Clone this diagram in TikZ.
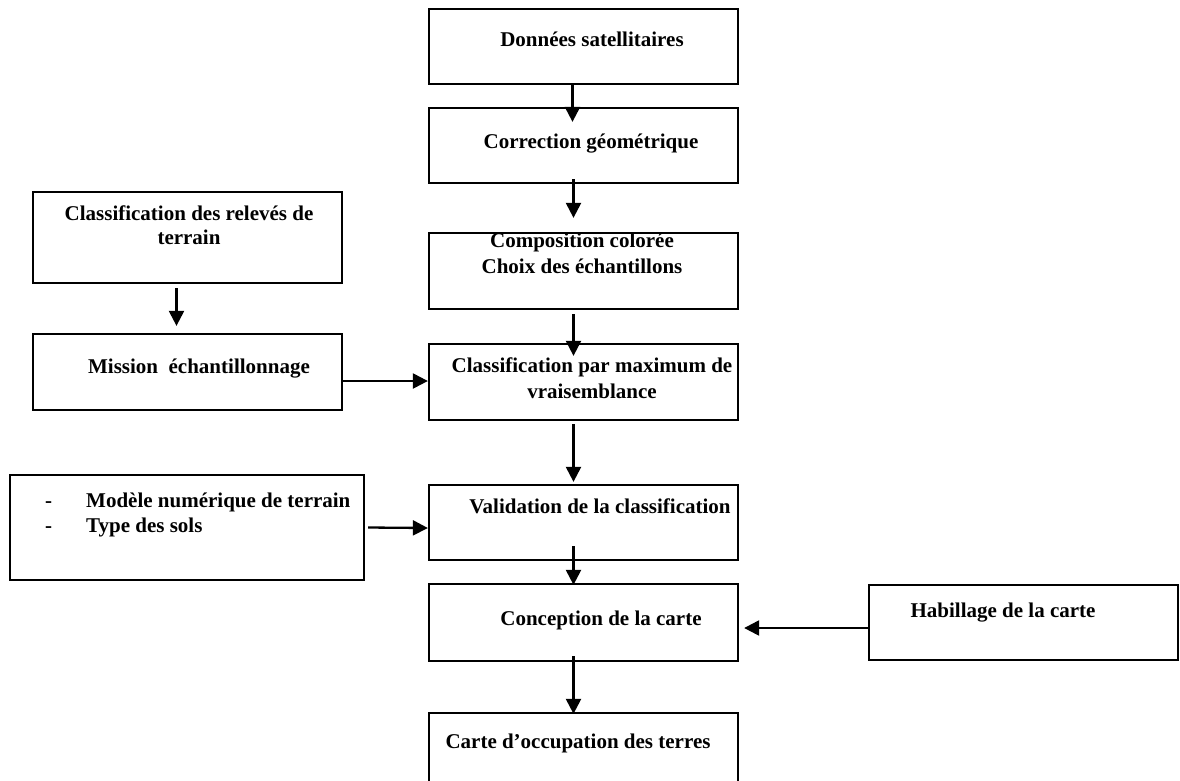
\documentclass[tikz,border=0pt]{standalone}
\usepackage{fontspec}
\setmainfont{Liberation Serif}
\usetikzlibrary{arrows.meta,calc}
\tikzset{
  box/.style={draw, line width=2.3pt, inner sep=0pt, minimum width=309pt, minimum height=75pt},
  txt/.style={inner sep=0pt, anchor=base, font=\bfseries\fontsize{21}{24}\selectfont, align=center},
  arr/.style={line width=2.3pt, -{Triangle[length=15pt,width=15pt]}}
}
\begin{document}
\begin{tikzpicture}[x=1pt,y=-1pt]
\useasboundingbox (0,0) rectangle (1180,780);
% central column
\node[box] (b1) at (583.5,46.5) {};
\node[box] (b2) at (583.5,145.5) {};
\node[box, minimum height=76pt] (b3) at (583.5,271) {};
\node[box, minimum height=76pt] (b4) at (583.5,382) {};
\node[box] (b5) at (583.5,522.5) {};
\node[box, minimum height=77pt] (b6) at (583.5,622.5) {};
\node[box, minimum height=77pt] (b7) at (583.5,751.5) {};
% left column
\node[box, minimum height=91pt] (l1) at (187.5,237.5) {};
\node[box, minimum height=76pt] (l2) at (187.5,372) {};
\node[box, minimum width=354pt, minimum height=105pt] (l3) at (187,527.5) {};
% right
\node[box, minimum height=75pt] (r1) at (1023.5,622.5) {};
% texts
\node[txt] (t1) at (592,46) {Données satellitaires};
\node[txt] (t2) at (591,148) {Correction géométrique};
\node[txt] (t3) at (582,273) {Composition colorée\\[2pt]Choix des échantillons};
\node[txt] (t4) at (592,398) {Classification par maximum de\\[2pt]vraisemblance};
\node[txt] (t5) at (600,513) {Validation de la classification};
\node[txt] (t6) at (601,625) {Conception de la carte};
\node[txt] (t7) at (578,748) {Carte d’occupation des terres};
\node[txt] (tl1) at (189,244) {Classification des relevés de\\terrain};
\node[txt] (tl2) at (199,373) {Mission~~échantillonnage};
\node[txt, anchor=base west] (tl3) at (45,507) {\begin{tabular}[t]{@{}l@{\hspace{34pt}}l@{}}-&Modèle numérique de terrain\\[1pt]-&Type des sols\end{tabular}};
\node[txt] (tr1) at (1003,617) {Habillage de la carte};
% arrows
\draw[arr] ($(b1.south)+(-11,0)$) -- ($(b2.north)+(-11,15)$);
\draw[arr] ($(b2.south)+(-10,-5)$) -- ($(b3.north)+(-10,-14)$);
\draw[arr] ($(b3.south)+(-10,4)$) -- ($(b4.north)+(-10,13)$);
\draw[arr] ($(b4.south)+(-10,3)$) -- ($(b5.north)+(-10,-2)$);
\draw[arr] ($(b5.south)+(-10,-15)$) -- ($(b6.north)+(-10,2)$);
\draw[arr] ($(b6.south)+(-10,-6)$) -- ($(b7.north)+(-10,2)$);
\draw[arr] ($(l1.south)+(-11,4)$) -- ($(l2.north)+(-11,-7)$);
\draw[arr] ($(l2.east)+(0,9)$) -- ($(b4.west)+(0,-1)$);
\draw[arr] ($(l3.east)+(3,0)$) -- ($(b5.west)+(0,5.5)$);
\draw[arr] ($(r1.west)+(0,5.5)$) -- ($(b6.east)+(5,5.5)$);
\end{tikzpicture}
\end{document}
